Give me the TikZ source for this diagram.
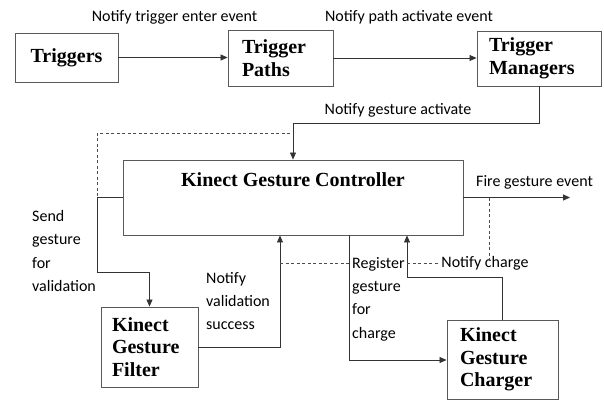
\documentclass[tikz,border=0pt]{standalone}
\usepackage{fontspec}
\setmainfont{Liberation Serif}
\newfontfamily\lblfont{Carlito}
\usetikzlibrary{arrows.meta,calc}
\begin{document}
\begin{tikzpicture}[x=1pt,y=-1pt,
  box/.style={draw=black!65,line width=0.9pt,inner sep=0pt,font=\fontsize{20}{22.5}\selectfont\bfseries},
  lbl/.style={font=\lblfont\fontsize{16}{23.3}\selectfont,inner sep=0pt},
  conn/.style={draw=black!80,line width=0.8pt},
  arr/.style={conn,-{Triangle[length=7pt,width=6pt]}},
  dsh/.style={draw=black!70,line width=0.8pt,dash pattern=on 3pt off 2.5pt}]
\useasboundingbox (0,0) rectangle (604,401);

% boxes
\node[box,minimum width=103pt,minimum height=49pt] (trig) at (66.5,57.5) {Triggers};
\node[box,minimum width=105pt,minimum height=56pt,text width=77pt,align=left] (paths) at (280.5,58) {Trigger\\Paths};
\node[box,minimum width=124pt,minimum height=55pt,text width=100pt,align=left] (mgr) at (539,58.5) {Trigger\\Managers};
\node[box,minimum width=340pt,minimum height=75pt,
  label={[anchor=center,yshift=-20pt,font=\fontsize{20}{22.5}\selectfont\bfseries]north:Kinect Gesture Controller}] (ctrl) at (293,197.5) {};
\node[box,minimum width=97pt,minimum height=80pt,text width=75pt,align=left] (filt) at (149.5,347) {Kinect\\Gesture\\Filter};
\node[box,minimum width=111pt,minimum height=79pt,text width=85pt,align=left] (chg) at (502.5,359.5) {Kinect\\Gesture\\Charger};

% labels
\node[lbl] (l1) at (174.5,17) {Notify trigger enter event};
\node[lbl] (l2) at (409,17) {Notify path activate event};
\node[lbl] (l3) at (398,110) {Notify gesture activate};
\node[lbl] (l4) at (534.5,182) {Fire gesture event};
\node[lbl,anchor=west,align=left] (l5) at (32,251) {Send\\gesture\\for\\validation};
\node[lbl,anchor=west,align=left] (l6) at (206,301) {Notify\\validation\\success};
\node[lbl,anchor=west,align=left] (l7) at (352,299) {Register\\gesture\\for\\charge};
\node[lbl] (l8) at (485,263) {Notify charge};

% coordinates
\coordinate (ga) at (293,123);
\coordinate (d1) at (290,133);
\coordinate (d2) at (97,133);
\coordinate (s1) at (97,272);
\coordinate (v1) at (280,347);
\coordinate (r1) at (349,360);
\coordinate (n1) at (407,277);
\coordinate (f1) at (570,197.5);
\coordinate (h1) at (280,263);
\coordinate (h2) at (349,263);
\coordinate (h3) at (407,263);
\coordinate (h4) at (438,263);
\coordinate (h5) at (489,197.5);
\coordinate (h6) at (489,261);

% connectors
\draw[arr] (trig.east) -- (trig.east -| paths.west);
\draw[arr] (paths.east) -- (paths.east -| mgr.west);
\draw[arr] (mgr.south) |- (ga) -- (ga |- ctrl.north);
\draw[dsh] (d1) -- (d2) -- (d2 |- ctrl.west);
\draw[arr] (ctrl.west) -- (ctrl.west -| s1) -- (s1) -- (s1 -| filt.north) -- (filt.north);
\draw[arr] (filt.east) -- (v1) -- (v1 |- ctrl.south);
\draw[arr] (r1 |- ctrl.south) -- (r1) -- (r1 -| chg.west);
\draw[arr] (chg.north) |- (n1) -- (n1 |- ctrl.south);
\draw[arr] (ctrl.east) -- (f1);
\draw[dsh] (h1) -- (h2);
\draw[dsh] (h3) -- (h4);
\draw[dsh] (h5) -- (h6);
\end{tikzpicture}
\end{document}
